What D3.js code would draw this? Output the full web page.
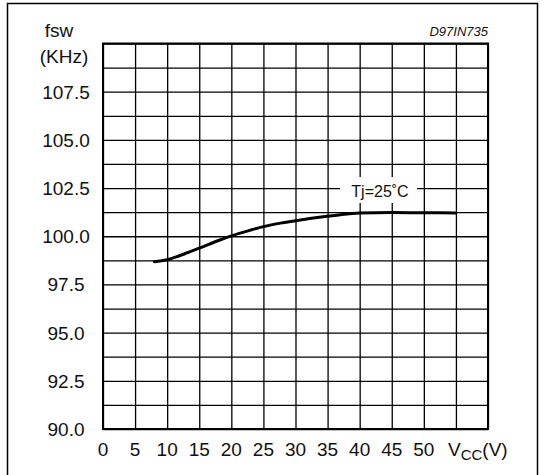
<!DOCTYPE html>
<html>
<head>
<meta charset="utf-8">
<script src="https://cdn.jsdelivr.net/npm/d3@7"></script>
<style>
  body { margin: 0; background: #fff; }
  svg { display: block; font-family: "Liberation Sans", Arial, sans-serif; }
  .grid line { stroke: #000; stroke-width: 1.3; }
  .grid .domain { display: none; }
  .lbl { font-size: 19px; fill: #111; }
</style>
</head>
<body>
<svg id="chart" width="549" height="475"></svg>
<script>
// curve
const vcc = [8, 10, 12, 15, 18, 20, 23, 25, 28, 31, 34, 37, 40, 45, 50, 55];
const fsw = [98.68, 98.78, 99.0, 99.38, 99.78, 100.02, 100.32, 100.5, 100.7, 100.86, 101.0, 101.12, 101.2, 101.23, 101.22, 101.21];

const xTicks = [0, 5, 10, 15, 20, 25, 30, 35, 40, 45, 50];
const yTicks = [90.0, 92.5, 95.0, 97.5, 100.0, 102.5, 105.0, 107.5];
const xGrid = d3.range(0, 61, 5);
const yGrid = d3.range(0, 17).map(i => 90 + i * 1.25);

const svg = d3.select("#chart");

// outer frame
svg.append("path")
    .attr("d", "M7.5,480 V3.5 H537.5 V480")
    .attr("fill", "none")
    .attr("stroke", "#000")
    .attr("stroke-width", 1.5);

const pLeft = 103, pRight = 488, pTop = 43.5, pBottom = 429;

let x = d3.scaleLinear().domain([0, 60]).range([pLeft, pRight]);
let y = d3.scaleLinear().domain([90, 110]).range([pBottom, pTop]);

// grid through axes
svg.append("g")
    .attr("class", "grid")
    .attr("transform", `translate(0,${pBottom})`)
    .call(d3.axisBottom(x).tickValues(xGrid).tickSize(-(pBottom - pTop)).tickFormat(""));

svg.append("g")
    .attr("class", "grid")
    .attr("transform", `translate(${pLeft},0)`)
    .call(d3.axisLeft(y).tickValues(yGrid).tickSize(-(pRight - pLeft)).tickFormat(""));

svg.append("rect")
    .attr("x", pLeft).attr("y", pTop)
    .attr("width", pRight - pLeft).attr("height", pBottom - pTop)
    .attr("fill", "none")
    .attr("stroke", "#000")
    .attr("stroke-width", 2);

// label box for Tj
svg.append("rect")
    .attr("x", 340).attr("y", 177)
    .attr("width", 77).attr("height", 26)
    .attr("fill", "#fff");

svg.append("text")
    .attr("x", 380).attr("y", 197)
    .attr("text-anchor", "middle")
    .style("font-size", "16px")
    .style("fill", "#111")
    .text("Tj=25˚C")

// curve
let line = d3.line()
    .x((d, i) => x(d))
    .y((d, i) => y(fsw[i]))
    .curve(d3.curveMonotoneX)

svg.append("path")
    .datum(vcc)
    .attr("d", line)
    .attr("fill", "none")
    .attr("stroke", "#000")
    .attr("stroke-width", 3)
    .attr("stroke-linecap", "round");

// tick labels
svg.selectAll(".xl")
    .data(xTicks)
    .enter()
    .append("text")
    .attr("class", "lbl")
    .attr("x", d => x(d))
    .attr("y", 456)
    .attr("text-anchor", "middle")
    .text(d => d)

svg.selectAll(".yl")
    .data(yTicks)
    .enter()
    .append("text")
    .attr("class", "lbl")
    .attr("x", 66)
    .attr("y", d => y(d) + 7)
    .attr("text-anchor", "middle")
    .text(d => d.toFixed(1))

// axis titles
svg.append("text").attr("class", "lbl")
    .attr("x", 59).attr("y", 37)
    .attr("text-anchor", "middle")
    .text("fsw")

svg.append("text").attr("class", "lbl")
    .attr("x", 64).attr("y", 63)
    .attr("text-anchor", "middle")
    .text("(KHz)")

let vt = svg.append("text").attr("class", "lbl")
    .attr("x", 448).attr("y", 456)
vt.append("tspan").text("V")
vt.append("tspan").attr("dy", 4).style("font-size", "15px").text("CC")
vt.append("tspan").attr("dy", -4).text("(V)")

svg.append("text")
    .attr("x", pRight).attr("y", 36)
    .attr("text-anchor", "end")
    .style("font-size", "13px")
    .style("font-style", "italic")
    .style("fill", "#111")
    .text("D97IN735")
</script>
</body>
</html>
